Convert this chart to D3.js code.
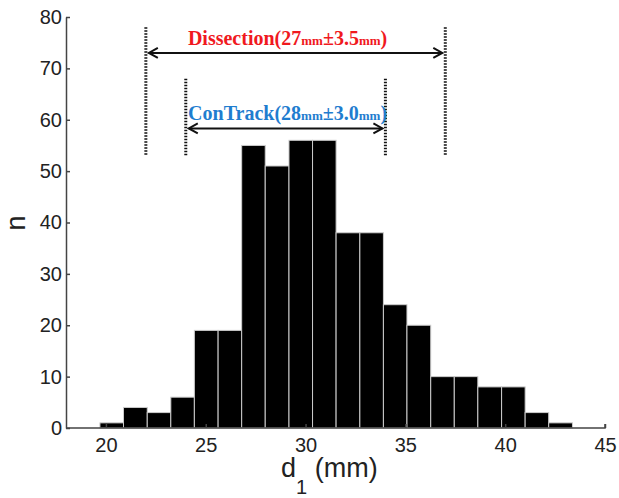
<!DOCTYPE html>
<html>
<head>
<meta charset="utf-8">
<script src="https://cdn.jsdelivr.net/npm/d3@7"></script>
<style>
  body { margin: 0; background: #fff; }
  svg { font-family: Arial, "Liberation Sans", sans-serif; }
  .note { font-family: "Times New Roman", "Liberation Serif", serif; font-weight: bold; }
</style>
</head>
<body>
<svg id="chart" width="619" height="498"></svg>
<script>
// histogram bins (mm) and counts
const binEdges = [19.7, 20.88, 22.07, 23.25, 24.43, 25.62, 26.8, 27.98, 29.17, 30.35, 31.53,
  32.72, 33.9, 35.08, 36.27, 37.45, 38.63, 39.82, 41.0, 42.18, 43.37]
const counts = [1, 4, 3, 6, 19, 19, 55, 51, 56, 56, 38, 38, 24, 20, 10, 10, 8, 8, 3, 1]
const xTicks = [20, 25, 30, 35, 40, 45]
const yTicks = [0, 10, 20, 30, 40, 50, 60, 70, 80]

// annotation ranges
const ranges = [
  { name: 'Dissection', mean: '27', sd: '3.5', x0: 22, x1: 37, lineTop: 78, lineBottom: 53, arrow: 73, color: '#f0191e' },
  { name: 'ConTrack', mean: '28', sd: '3.0', x0: 24, x1: 34, lineTop: 68, lineBottom: 53, arrow: 58.3, color: '#1f7dcf' }
]

const svg = d3.select('#chart')
const mLeft = 66, mRight = 605, mTop = 17, mBottom = 428

const x = d3.scaleLinear().domain([18, 45]).range([mLeft, mRight])
const y = d3.scaleLinear().domain([0, 80]).range([mBottom, mTop])

const bins = counts.map((c, i) => ({ x0: binEdges[i], x1: binEdges[i + 1], n: c }))

svg.append('g')
  .selectAll('rect')
  .data(bins)
  .join('rect')
    .attr('x', d => x(d.x0))
    .attr('y', d => y(d.n))
    .attr('width', d => x(d.x1) - x(d.x0))
    .attr('height', d => y(0) - y(d.n))
    .attr('fill', '#000')
    .attr('stroke', '#ccc')
    .attr('stroke-width', 1)

// axes, ticks point inward
const xAxis = svg.append('g')
  .attr('transform', `translate(0,${mBottom})`)
  .call(d3.axisBottom(x).tickValues(xTicks).tickSizeInner(-4).tickSizeOuter(0).tickPadding(10))
const yAxis = svg.append('g')
  .attr('transform', `translate(${mLeft},0)`)
  .call(d3.axisLeft(y).tickValues(yTicks).tickSizeInner(-4).tickSizeOuter(0).tickPadding(4))

;[xAxis, yAxis].forEach(ax => {
  ax.select('.domain').attr('stroke', '#444').attr('stroke-width', 1.5)
  ax.selectAll('.tick line').attr('stroke', '#444').attr('stroke-width', 1.5)
  ax.selectAll('.tick text')
    .attr('font-size', '20px')
    .attr('fill', '#222')
    .attr('font-family', 'Arial, "Liberation Sans", sans-serif')
})
xAxis.select('.domain').attr('d', `M${mLeft},0H${mRight}V-4`)

svg.append('text')
  .text('n')
  .attr('transform', `translate(25,223) rotate(-90)`)
  .attr('text-anchor', 'middle')
  .attr('font-size', '27px')
  .attr('fill', '#222')

const xl = svg.append('text')
  .attr('x', 281)
  .attr('y', 477)
  .attr('font-size', '27px')
  .attr('fill', '#222')
xl.append('tspan').text('d')
xl.append('tspan').text('1').attr('font-size', '20px').attr('dy', 17)
xl.append('tspan').text('\u00a0(mm)').attr('dy', -17)

// range annotations
ranges.forEach(r => {
  const g = svg.append('g')
  ;[r.x0, r.x1].forEach(v => {
    g.append('line')
      .attr('x1', x(v)).attr('x2', x(v))
      .attr('y1', y(r.lineTop)).attr('y2', y(r.lineBottom))
      .attr('stroke', '#111')
      .attr('stroke-width', 3)
      .attr('stroke-dasharray', '1.5,1.5')
  })
  const ay = y(r.arrow)
  const ax0 = x(r.x0) + 3, ax1 = x(r.x1) - 3
  g.append('line')
    .attr('x1', ax0).attr('x2', ax1)
    .attr('y1', ay).attr('y2', ay)
    .attr('stroke', '#111').attr('stroke-width', 2)
  g.append('path')
    .attr('d', `M${ax0 + 9},${ay - 5}L${ax0},${ay}L${ax0 + 9},${ay + 5}M${ax1 - 9},${ay - 5}L${ax1},${ay}L${ax1 - 9},${ay + 5}`)
    .attr('fill', 'none').attr('stroke', '#111').attr('stroke-width', 2)

  const t = g.append('text')
    .attr('class', 'note')
    .attr('x', (x(r.x0) + x(r.x1)) / 2 - (r.name === 'Dissection' ? 8 : -2))
    .attr('y', ay - 8)
    .attr('text-anchor', 'middle')
    .attr('font-size', '20px')
    .attr('fill', r.color)
  t.append('tspan').text(r.name + '(' + r.mean)
  t.append('tspan').text('mm').attr('font-size', '13px')
  t.append('tspan').text('±' + r.sd)
  t.append('tspan').text('mm').attr('font-size', '13px')
  t.append('tspan').text(')')
})
</script>
</body>
</html>
